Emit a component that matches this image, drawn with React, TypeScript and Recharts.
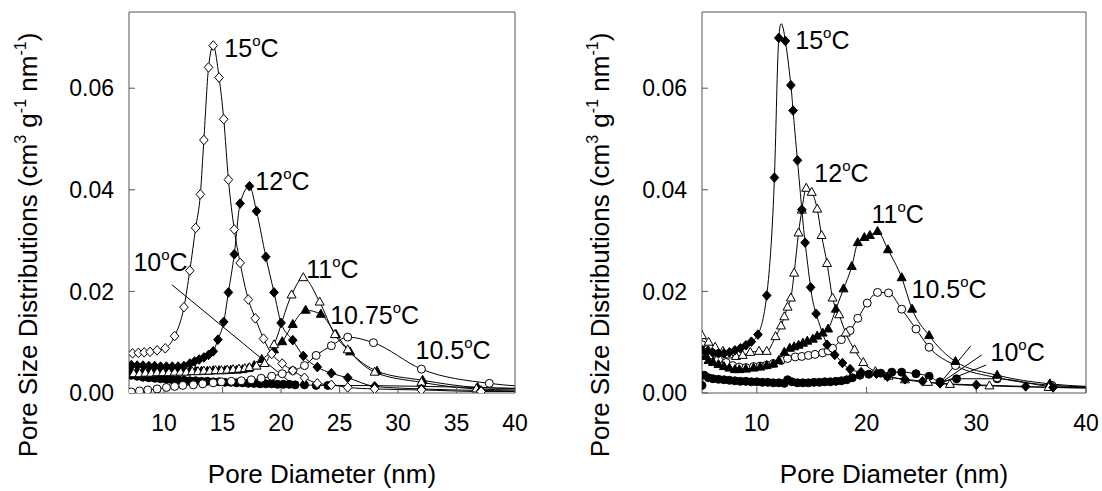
import React from "react";
import { LineChart, Line, XAxis, YAxis, ReferenceLine, ReferenceDot } from "recharts";

const FONT = '"Liberation Sans", Arial, Helvetica, sans-serif';
const FRAME = "#555";

const leftXTicks = [10, 15, 20, 25, 30, 35, 40];
const rightXTicks = [10, 20, 30, 40];
const yTicks = [0, 0.02, 0.04, 0.06];

// ---- left panel ----
const l15x = [7.3, 7.8, 8.3, 8.8, 9.4, 10.1, 10.9, 11.7, 12.2, 12.7, 13.1, 13.4, 13.8, 14.2, 14.7, 15.1, 15.5, 16.0, 16.5, 17.2, 17.8, 18.5, 19.2, 20.1, 21.0, 22.0, 23.1, 24.3, 25.7, 28.0, 32.0, 37.1, 40];
const l15y = [0.0078, 0.0079, 0.008, 0.0081, 0.0084, 0.0088, 0.0112, 0.0169, 0.0241, 0.0325, 0.0391, 0.0498, 0.0641, 0.0684, 0.0621, 0.0539, 0.042, 0.0322, 0.0256, 0.0184, 0.0147, 0.0107, 0.0077, 0.0058, 0.0044, 0.003, 0.0019, 0.0016, 0.0011, 0.0008, 0.0006, 0.0003, 0.0003];

const l12x = [7.2, 7.7, 8.2, 8.7, 9.2, 9.7, 10.2, 10.7, 11.2, 11.7, 12.2, 12.6, 13.0, 13.4, 13.8, 14.2, 14.6, 15.1, 15.5, 16.0, 16.5, 17.3, 17.9, 18.7, 19.4, 20.0, 21.0, 21.9, 23.1, 24.3, 25.7, 28.0, 32.0, 37.1, 40];
const l12y = [0.0055, 0.0054, 0.0054, 0.0053, 0.0053, 0.0052, 0.0052, 0.0052, 0.0052, 0.0053, 0.0058, 0.0062, 0.0066, 0.007, 0.0075, 0.0082, 0.0105, 0.014, 0.0198, 0.0273, 0.0373, 0.0407, 0.0358, 0.0268, 0.0198, 0.0138, 0.0104, 0.0073, 0.0051, 0.0039, 0.003, 0.0013, 0.0008, 0.0005, 0.0004];

const l11x = [7.4, 7.9, 8.4, 8.9, 9.4, 9.9, 10.4, 10.9, 11.4, 11.9, 12.4, 12.9, 13.4, 13.9, 14.4, 14.9, 15.4, 15.9, 16.4, 16.9, 17.3, 17.9, 18.6, 19.4, 20.9, 21.9, 23.3, 24.6, 25.7, 28.0, 32.0, 36.7, 40];
const l11y = [0.0038, 0.0038, 0.0039, 0.0039, 0.004, 0.004, 0.004, 0.0041, 0.0041, 0.0041, 0.0042, 0.0042, 0.0043, 0.0043, 0.0044, 0.0044, 0.0045, 0.0046, 0.0047, 0.0048, 0.005, 0.0053, 0.0058, 0.0095, 0.0193, 0.0227, 0.0179, 0.0115, 0.0085, 0.0041, 0.0021, 0.0008, 0.0006];

const l1075x = [7.2, 7.7, 8.2, 8.7, 9.2, 9.7, 10.2, 10.7, 11.2, 11.7, 12.2, 12.7, 13.2, 13.7, 14.2, 14.7, 15.2, 15.7, 16.2, 16.7, 17.2, 17.7, 18.35, 19.4, 20.1, 21.0, 22.1, 23.4, 24.7, 25.9, 28.2, 32.1, 36.8, 40];
const l1075y = [0.0044, 0.0043, 0.0043, 0.0043, 0.0043, 0.0043, 0.0043, 0.0043, 0.0043, 0.0043, 0.0043, 0.0043, 0.0043, 0.0043, 0.0044, 0.0044, 0.0044, 0.0045, 0.0045, 0.0046, 0.0048, 0.0054, 0.0066, 0.0085, 0.0101, 0.0135, 0.0163, 0.0155, 0.0115, 0.0081, 0.0043, 0.0025, 0.0011, 0.0009];

const l105x = [7.2, 7.9, 8.6, 9.4, 10.2, 10.9, 11.6, 12.5, 13.3, 14.2, 14.9, 15.75, 16.6, 17.45, 18.3, 19.2, 20.1, 21.0, 22.0, 23.0, 24.3, 25.7, 27.9, 32.0, 37.8, 40];
const l105y = [0.0002, 0.0004, 0.0006, 0.0008, 0.0011, 0.0013, 0.0015, 0.0016, 0.0018, 0.002, 0.0022, 0.0023, 0.0024, 0.0026, 0.0029, 0.0033, 0.0038, 0.0044, 0.0054, 0.0074, 0.0093, 0.011, 0.0099, 0.0047, 0.0019, 0.0014];

const l10x = [7.2, 7.7, 8.2, 8.7, 9.2, 9.7, 10.2, 10.7, 11.2, 11.7, 12.2, 12.7, 13.2, 13.7, 14.2, 14.7, 15.2, 15.7, 16.2, 16.7, 17.2, 17.7, 18.2, 18.7, 19.2, 19.7, 20.2, 20.7, 21.2, 22.0, 23.0, 24.0, 40];
const l10y = [0.0035, 0.0033, 0.0031, 0.003, 0.0029, 0.0028, 0.0027, 0.0026, 0.0026, 0.0025, 0.0024, 0.0024, 0.0023, 0.0023, 0.0022, 0.0022, 0.0021, 0.0021, 0.002, 0.002, 0.0019, 0.0019, 0.0018, 0.0018, 0.0018, 0.0017, 0.0017, 0.0017, 0.0016, 0.0016, 0.0015, 0.0015, 0.0009];

// ---- right panel ----
const r15x = [5.0, 5.5, 6.0, 6.5, 7.0, 7.5, 8.0, 8.5, 9.0, 9.5, 10.1, 10.9, 11.6, 12.0, 12.6, 13.1, 13.3, 13.7, 14.1, 14.4, 14.9, 15.4, 16.4, 17.1, 17.8, 18.5, 19.5, 20.9, 21.9, 23.5, 25.1, 26.7, 30.0, 34.5, 37.0, 40];
const r15y = [0.0085, 0.0082, 0.0079, 0.0078, 0.0078, 0.008, 0.0084, 0.0088, 0.0094, 0.0101, 0.0115, 0.0192, 0.0424, 0.0699, 0.0693, 0.0606, 0.0556, 0.0458, 0.0361, 0.0296, 0.0208, 0.0156, 0.0095, 0.0075, 0.0059, 0.0047, 0.0041, 0.0038, 0.0032, 0.0027, 0.0023, 0.0019, 0.0016, 0.0013, 0.0011, 0.001];

const r12x = [5.0, 5.6, 6.2, 6.9, 7.5, 8.1, 8.7, 9.4, 10.2, 10.9, 11.7, 12.2, 12.5, 12.8, 13.1, 13.4, 13.8, 14.1, 14.5, 15.0, 15.5, 15.9, 16.4, 16.9, 17.5, 18.1, 18.9, 19.7, 20.8, 22.0, 23.5, 25.6, 27.6, 31.2, 36.6, 40];
const r12y = [0.0113, 0.01, 0.009, 0.0082, 0.0075, 0.0072, 0.0074, 0.008, 0.0082, 0.0082, 0.0111, 0.0132, 0.015, 0.0169, 0.0187, 0.0236, 0.0315, 0.036, 0.0403, 0.0395, 0.0362, 0.031, 0.0255, 0.0187, 0.0154, 0.0118, 0.0085, 0.006, 0.0042, 0.0033, 0.0026, 0.0021, 0.0017, 0.0014, 0.0011, 0.001];

const r11x = [5.0, 5.3, 5.6, 6.0, 6.5, 7.0, 7.5, 8.0, 8.4, 9.0, 9.7, 10.3, 10.9, 11.5, 12.0, 12.5, 13.0, 13.4, 13.8, 14.2, 14.6, 15.1, 15.5, 16.0, 16.5, 17.2, 17.9, 18.65, 19.2, 19.8, 20.3, 21.0, 21.95, 23.2, 24.15, 25.7, 28.1, 31.9, 36.7, 40];
const r11y = [0.0084, 0.0072, 0.0064, 0.006, 0.0056, 0.0052, 0.0049, 0.0046, 0.0046, 0.0047, 0.0049, 0.0051, 0.0054, 0.0057, 0.0064, 0.008, 0.0088, 0.0091, 0.0094, 0.0098, 0.0102, 0.0106, 0.0112, 0.0118, 0.0126, 0.0165, 0.0205, 0.0249, 0.0296, 0.0306, 0.031, 0.0318, 0.0282, 0.0227, 0.0165, 0.0113, 0.0062, 0.0035, 0.0018, 0.0013];

const r105x = [5.0, 5.4, 5.9, 6.5, 7.2, 7.8, 8.4, 9.0, 9.7, 10.3, 10.9, 11.5, 12.2, 12.8, 13.5, 14.1, 14.7, 15.3, 16.0, 16.5, 16.9, 17.7, 18.5, 19.2, 20.06, 21.0, 22.0, 23.2, 24.5, 25.7, 28.1, 31.9, 36.9, 40];
const r105y = [0.0095, 0.0085, 0.0075, 0.0066, 0.006, 0.0054, 0.0051, 0.005, 0.0052, 0.0053, 0.0055, 0.0058, 0.0064, 0.0068, 0.0071, 0.0072, 0.0074, 0.0076, 0.0079, 0.0083, 0.0088, 0.0105, 0.0123, 0.0147, 0.0177, 0.0198, 0.0197, 0.0165, 0.0126, 0.009, 0.0054, 0.003, 0.0015, 0.0012];

const r10x = [5.0, 5.2, 5.6, 6.0, 6.5, 7.0, 7.5, 8.0, 8.5, 9.0, 9.5, 10.0, 10.5, 11.0, 11.5, 12.0, 12.5, 12.8, 13.2, 13.7, 14.2, 14.7, 15.2, 15.7, 16.2, 16.7, 17.2, 17.7, 18.2, 18.7, 19.4, 20.2, 21.3, 22.3, 23.2, 24.5, 25.7, 26.7, 28.2, 31.9, 36.8, 40];
const r10y = [0.0015, 0.0035, 0.003, 0.0028, 0.0027, 0.0026, 0.0025, 0.0024, 0.0023, 0.0023, 0.0022, 0.0022, 0.0021, 0.0021, 0.002, 0.002, 0.0019, 0.0026, 0.0022, 0.002, 0.002, 0.002, 0.0021, 0.0021, 0.0022, 0.0022, 0.0023, 0.0024, 0.0026, 0.003, 0.0035, 0.0037, 0.0039, 0.0041, 0.0041, 0.0038, 0.0033, 0.0022, 0.0028, 0.0028, 0.0013, 0.0011];

// annotations (data coordinates)
const leftLabels = [
  { t: "15", x: 15.15, y: 0.0661 },
  { t: "12", x: 17.8, y: 0.0399 },
  { t: "10", x: 7.38, y: 0.0241 },
  { t: "11", x: 22.15, y: 0.0227 },
  { t: "10.75", x: 24.2, y: 0.0136 },
  { t: "10.5", x: 31.5, y: 0.0067 },
];
const rightLabels = [
  { t: "15", x: 13.5, y: 0.0678 },
  { t: "12", x: 15.24, y: 0.0415 },
  { t: "11", x: 20.45, y: 0.0335 },
  { t: "10.5", x: 24.1, y: 0.0187 },
  { t: "10", x: 31.3, y: 0.0063 },
];
const leftLeaders = [[10.67, 0.0213, 20.9, 0.0019]];
const rightLeaders = [
  [26.7, 0.0019, 29.5, 0.0093],
  [26.7, 0.0019, 30.5, 0.0075],
  [26.7, 0.0019, 30.9, 0.0055],
];

const zip = (xs: number[], ys: number[]) => xs.map((x, i) => ({ x, y: ys[i] }));

type Shape = "diamond" | "triangle" | "circle";

const makeDot = (shape: Shape, filled: boolean) => (p: any) => {
  const { cx, cy, index, payload } = p;
  const key = `d-${index}`;
  if (cx == null || cy == null || payload.x >= 39.99) return <g key={key} />;
  const fill = filled ? "#000" : "#fff";
  if (shape === "circle") return <circle key={key} cx={cx} cy={cy} r={4} fill={fill} stroke="#000" strokeWidth={1} />;
  const pts =
    shape === "diamond"
      ? `${cx},${cy - 4.8} ${cx + 4.3},${cy} ${cx},${cy + 4.8} ${cx - 4.3},${cy}`
      : `${cx},${cy - 5} ${cx + 4.5},${cy + 3} ${cx - 4.5},${cy + 3}`;
  return <polygon key={key} points={pts} fill={fill} stroke="#000" strokeWidth={1} />;
};

function TempText({ cx, cy, t }: any) {
  return (
    <text x={cx} y={cy} fontSize={25} fontFamily={FONT} fill="#000">
      {t}
      <tspan fontSize={15} dy={-11}>o</tspan>
      <tspan dy={11}>C</tspan>
    </text>
  );
}

function YTitle({ bx, cy }: any) {
  return (
    <text
      x={bx}
      y={cy}
      transform={`rotate(-90 ${bx} ${cy})`}
      textAnchor="middle"
      fontSize={26}
      fontFamily={FONT}
      fill="#000"
    >
      Pore Size Distributions (cm
      <tspan fontSize={16} dy={-11}>3</tspan>
      <tspan dy={11}> g</tspan>
      <tspan fontSize={16} dy={-11}>-1</tspan>
      <tspan dy={11}> nm</tspan>
      <tspan fontSize={16} dy={-11}>-1</tspan>
      <tspan dy={11}>)</tspan>
    </text>
  );
}

function XTitle({ cx, by }: any) {
  return (
    <text x={cx} y={by} textAnchor="middle" fontSize={26} fontFamily={FONT} fill="#000">
      Pore Diameter (nm)
    </text>
  );
}

type Series = { data: { x: number; y: number }[]; shape: Shape; filled: boolean; curve?: "monotone" | "natural" };

function Panel(props: {
  marginLeft: number;
  marginRight: number;
  xDomain: [number, number];
  xTicks: number[];
  series: Series[];
  labels: { t: string; x: number; y: number }[];
  leaders: number[][];
  titleX: number;
  titleCx: number;
}) {
  const { marginLeft, marginRight, xDomain, xTicks, series, labels, leaders, titleX, titleCx } = props;
  const axisLine = { stroke: FRAME, strokeWidth: 1 };
  return (
    <LineChart
      width={551}
      height={491}
      margin={{ top: 2, right: marginRight, bottom: 58, left: marginLeft }}
    >
      <XAxis
        type="number"
        dataKey="x"
        domain={xDomain}
        ticks={xTicks}
        allowDataOverflow
        tickSize={-6}
        tickMargin={28}
        height={40}
        axisLine={axisLine}
        tickLine={axisLine}
        tick={{ fill: "#000", fontSize: 23, fontFamily: FONT }}
        label={<XTitle cx={titleCx} by={483} />}
      />
      <XAxis
        xAxisId="top"
        orientation="top"
        type="number"
        domain={xDomain}
        ticks={xTicks}
        allowDataOverflow
        tickSize={-6}
        height={10}
        axisLine={axisLine}
        tickLine={axisLine}
        tick={false}
      />
      <YAxis
        type="number"
        domain={[0, 0.075]}
        ticks={yTicks}
        allowDataOverflow
        tickFormatter={(v: number) => v.toFixed(2)}
        width={60}
        tickSize={-6}
        tickMargin={21}
        axisLine={axisLine}
        tickLine={axisLine}
        tick={{ fill: "#000", fontSize: 23, fontFamily: FONT }}
        label={<YTitle bx={titleX} cy={245} />}
      />
      <YAxis
        yAxisId="right"
        orientation="right"
        type="number"
        domain={[0, 0.075]}
        ticks={yTicks}
        allowDataOverflow
        width={10}
        tickSize={-6}
        axisLine={axisLine}
        tickLine={axisLine}
        tick={false}
      />
      {leaders.map((s, i) => (
        <ReferenceLine
          key={`ld-${i}`}
          segment={[
            { x: s[0], y: s[1] },
            { x: s[2], y: s[3] },
          ]}
          stroke="#000"
          strokeWidth={1}
          ifOverflow="visible"
        />
      ))}
      {series.map((s, i) => (
        <Line
          key={`s-${i}`}
          data={s.data}
          dataKey="y"
          type={s.curve ?? "monotone"}
          stroke="#000"
          strokeWidth={1}
          dot={makeDot(s.shape, s.filled)}
          activeDot={false}
          isAnimationActive={false}
        />
      ))}
      {labels.map((l, i) => (
        <ReferenceDot
          key={`lb-${i}`}
          x={l.x}
          y={l.y}
          r={0}
          ifOverflow="visible"
          shape={(p: any) => <TempText cx={p.cx} cy={p.cy} t={l.t} />}
        />
      ))}
    </LineChart>
  );
}

export default function App() {
  const leftSeries: Series[] = [
    { data: zip(l10x, l10y), shape: "circle", filled: true },
    { data: zip(l105x, l105y), shape: "circle", filled: false },
    { data: zip(l1075x, l1075y), shape: "triangle", filled: true },
    { data: zip(l11x, l11y), shape: "triangle", filled: false },
    { data: zip(l12x, l12y), shape: "diamond", filled: true },
    { data: zip(l15x, l15y), shape: "diamond", filled: false },
  ];
  const rightSeries: Series[] = [
    { data: zip(r10x, r10y), shape: "circle", filled: true },
    { data: zip(r105x, r105y), shape: "circle", filled: false },
    { data: zip(r11x, r11y), shape: "triangle", filled: true },
    { data: zip(r12x, r12y), shape: "triangle", filled: false },
    { data: zip(r15x, r15y), shape: "diamond", filled: true, curve: "natural" },
  ];
  return (
    <div style={{ position: "absolute", left: 0, top: 0, width: 1102, height: 491, background: "#fff" }}>
      <div style={{ position: "absolute", left: 0, top: 0 }}>
        <Panel
          marginLeft={69}
          marginRight={26}
          xDomain={[7, 40]}
          xTicks={leftXTicks}
          series={leftSeries}
          labels={leftLabels}
          leaders={leftLeaders}
          titleX={37}
          titleCx={322}
        />
      </div>
      <div style={{ position: "absolute", left: 551, top: 0 }}>
        <Panel
          marginLeft={91}
          marginRight={6}
          xDomain={[5, 40]}
          xTicks={rightXTicks}
          series={rightSeries}
          labels={rightLabels}
          leaders={rightLeaders}
          titleX={58}
          titleCx={343}
        />
      </div>
    </div>
  );
}
